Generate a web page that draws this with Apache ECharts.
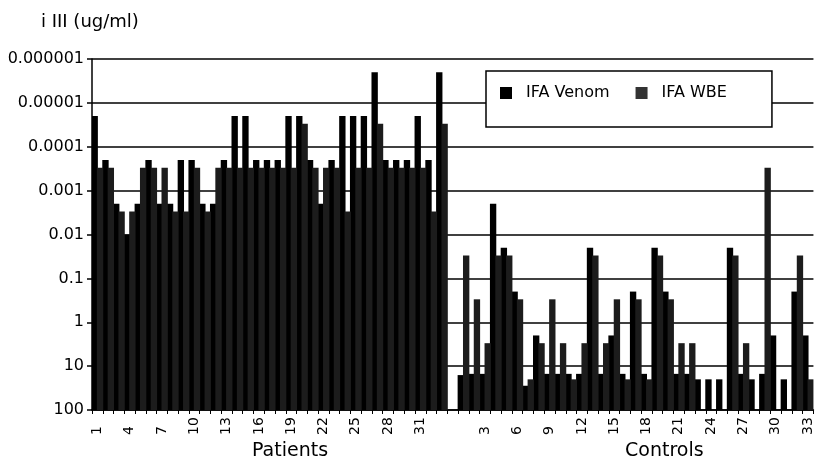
<!DOCTYPE html>
<html><head><meta charset="utf-8">
<script src="https://cdn.jsdelivr.net/npm/echarts@6/dist/echarts.min.js"></script>
<style>html,body{margin:0;padding:0;background:#fff}#c{width:815px;height:464px}</style>
</head><body><div id="c"></div>
<script>
const patientCats = ['1','2','3','4','5','6','7','8','9','10','11','12','13','14','15','16','17','18','19','20','21','22','23','24','25','26','27','28','29','30','31','32','33'];
const controlCats = ['1','2','3','4','5','6','7','8','9','10','11','12','13','14','15','16','17','18','19','20','21','22','23','24','25','26','27','28','29','30','31','32','33'];
const gapCat = [''];

const patientVenom = [0.00002,0.0002,0.002,0.01,0.002,0.0002,0.002,0.002,0.0002,0.0002,0.002,0.002,0.0002,0.00002,0.00002,0.0002,0.0002,0.0002,0.00002,0.00002,0.0002,0.002,0.0002,0.00002,0.00002,0.00002,0.000002,0.0002,0.0002,0.0002,0.00002,0.0002,0.000002];
const patientWBE = [0.0003,0.0003,0.003,0.003,0.0003,0.0003,0.0003,0.003,0.003,0.0003,0.003,0.0003,0.0003,0.0003,0.0003,0.0003,0.0003,0.0003,0.0003,0.00003,0.0003,0.0003,0.0003,0.003,0.0003,0.0003,0.00003,0.0003,0.0003,0.0003,0.0003,0.003,0.00003];

const controlVenom = [16,15,15,0.002,0.02,0.2,28,2,15,15,15,15,0.02,15,2,15,0.2,15,0.02,0.2,15,15,20,20,20,0.02,15,20,15,2,20,0.2,2];
const controlWBE = [0.03,0.3,3,0.03,0.03,0.3,20,3,0.3,3,20,3,0.03,3,0.3,20,0.3,20,0.03,0.3,3,3,null,null,null,0.03,3,null,0.0003,null,null,0.03,20];

const yTickLabels = ['0.000001','0.00001','0.0001','0.001','0.01','0.1','1','10','100'];
const seriesNames = ['IFA Venom','IFA WBE'];
const titleText = 'i III (ug/ml)';
const groupNames = ['Patients','Controls'];

const categories = patientCats.concat(gapCat, controlCats);
const venom = patientVenom.concat([null], controlVenom);
const wbe = patientWBE.concat([null], controlWBE);

const FONT = 'DejaVu Sans';
const VENOM_C = '#000000', WBE_C = '#1c1c1c';
const chart = echarts.init(document.getElementById('c'), null, {renderer: 'canvas'});
chart.setOption({
  animation: false,
  backgroundColor: '#fff',
  grid: {left: 92, top: 59, width: 728, height: 351},
  title: {text: titleText, left: 36, top: 8, textStyle: {fontFamily: FONT, fontSize: 18, fontWeight: 'normal', color: '#000'}},
  legend: {
    data: [{name: seriesNames[0], itemStyle: {color: VENOM_C}}, {name: seriesNames[1], itemStyle: {color: '#333'}}],
    left: 486, top: 71, orient: 'horizontal',
    padding: [14, 45, 26, 14], itemWidth: 12, itemHeight: 12, itemGap: 26,
    borderColor: '#000', borderWidth: 1.5, backgroundColor: '#fff',
    textStyle: {fontFamily: FONT, fontSize: 16, color: '#000', padding: [0, 0, 0, 9]},
    icon: 'rect'
  },
  xAxis: {
    type: 'category', data: categories, boundaryGap: true,
    axisLine: {lineStyle: {color: '#000', width: 1.5}},
    axisTick: {show: true, interval: 0, length: 4, lineStyle: {color: '#000', width: 1}},
    axisLabel: {interval: 2, rotate: 90, align: 'left', verticalAlign: 'middle', fontSize: 14, margin: 25, color: '#000', fontFamily: FONT}
  },
  yAxis: {
    type: 'log', logBase: 10, inverse: true, min: 0.000001, max: 100, startValue: 100,
    axisLine: {show: true, lineStyle: {color: '#000', width: 1.5}},
    axisTick: {show: true, length: 5, lineStyle: {color: '#000', width: 1.5}},
    splitLine: {show: true, lineStyle: {color: '#000', width: 1.5}},
    axisLabel: {formatter: v => yTickLabels[Math.round(Math.log10(v)) + 6], fontSize: 16, color: '#000', margin: 8, fontFamily: FONT}
  },
  series: [
    {name: seriesNames[0], type: 'bar', data: venom, barWidth: '59%', barGap: '-15.5%',
     itemStyle: {color: VENOM_C}},
    {name: seriesNames[1], type: 'bar', data: wbe, barWidth: '59%', barGap: '-15.5%',
     itemStyle: {color: WBE_C}}
  ],
  graphic: [
    {type: 'text', left: 252, top: 442, style: {text: groupNames[0], font: '19px "DejaVu Sans"', fill: '#000'}},
    {type: 'text', left: 625, top: 442, style: {text: groupNames[1], font: '19px "DejaVu Sans"', fill: '#000'}}
  ]
});
</script></body></html>
